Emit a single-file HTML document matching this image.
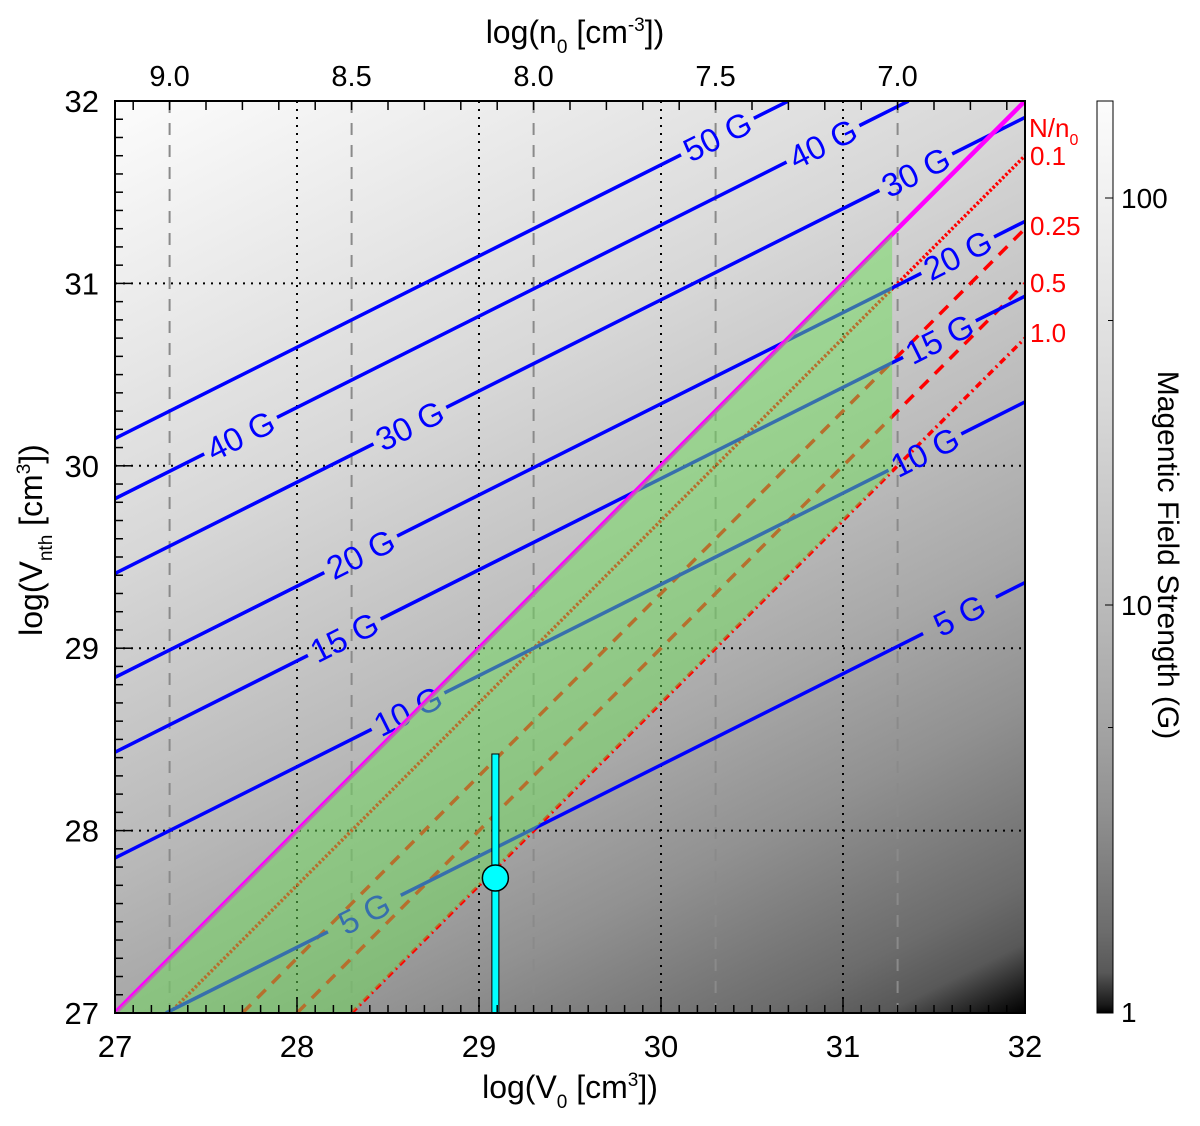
<!DOCTYPE html>
<html><head><meta charset="utf-8"><style>
html,body{margin:0;padding:0;background:#fff;}
svg text{font-family:"Liberation Sans",Arial,sans-serif;}
</style></head><body>
<svg id="chart" width="1200" height="1121" viewBox="0 0 1200 1121" xmlns="http://www.w3.org/2000/svg">
<defs>
<linearGradient id="bgGrad" gradientUnits="userSpaceOnUse"></linearGradient>
<linearGradient id="cbGrad" gradientUnits="userSpaceOnUse" x1="0" y1="1013" x2="0" y2="101"></linearGradient>
<clipPath id="plotClip"><rect x="115" y="101" width="910" height="912"/></clipPath>
</defs>
<rect x="115" y="101" width="910" height="912" fill="url(#bgGrad)"/>
<g id="grid" clip-path="url(#plotClip)"></g>
<g id="lines" clip-path="url(#plotClip)"></g>
<g id="overlay" clip-path="url(#plotClip)"></g>
<g id="point"></g>
<g id="axes"></g>
<g id="colorbar"></g>
</svg>
<script>
// ---- data ----
const bLabels = [50, 40, 30, 20, 15, 10, 5];
const bIntercepts = [30.15, 29.82, 29.41, 28.84, 28.43, 27.85, 26.86]; // log Vnth at log V0 = 27
const bSlope = 0.5;
const leftLabelV0 = [null, 27.69, 28.62, 28.35, 28.26, 28.61, 28.37];
const rightLabelV0 = [30.31, 30.89, 31.40, 31.63, 31.53, 31.45, 31.64];
const ratioLabels = ['0.1', '0.25', '0.5', '1.0'];
const ratioOffsets = [-0.3, -0.7, -1.0, -1.3];
const ratioDash = ['2.5,2', '12,9', '12,9', '7,4,2,4'];
const xTicks = [27, 28, 29, 30, 31, 32];
const yTicks = [27, 28, 29, 30, 31, 32];
const topTicks = [9.0, 8.5, 8.0, 7.5, 7.0];
const pointV0 = 29.09, pointVnth = 27.74, pointErrLo = 27.0, pointErrHi = 28.42;
const regionMaxV0 = 31.27;
const cbTicks = [1, 10, 100];
const cbLabelsTxt = ['1', '10', '100'];
const cbMinor = [5, 50];

// ---- axes functions ----
const X0 = 115, X1 = 1025, Y0 = 1013, Y1 = 101;
const sx = v => X0 + (v - 27) / 5 * (X1 - X0);
const sy = v => Y0 - (v - 27) / 5 * (Y0 - Y1);
const topToV0 = n => 27.3 + 2 * (9 - n);
const cbY = b => 1012 - Math.log10(b) * 407;
const NS = 'http://www.w3.org/2000/svg';
function mk(tag, attrs, parent, text) {
  const e = document.createElementNS(NS, tag);
  for (const k in attrs) e.setAttribute(k, attrs[k]);
  if (text !== undefined) e.textContent = text;
  parent.appendChild(e);
  return e;
}
const $ = id => document.getElementById(id);

const grayStops = [[-0.05, 0], [0.02, 25], [0.1, 88], [0.2, 108], [0.5, 145], [0.75, 168], [1.0, 186], [1.5, 216], [2.3, 252]];
const bg = $('bgGrad');
bg.setAttribute('x1', 1025); bg.setAttribute('y1', 1013);
bg.setAttribute('x2', 479); bg.setAttribute('y2', -80);
grayStops.forEach(([lb, g]) => {
  const c = 13.36 + (lb - 0.7) * 3.29;
  const off = Math.max(0, Math.min(1, (c - 11) / 7.5));
  mk('stop', { offset: off, 'stop-color': `rgb(${g},${g},${g})` }, bg);
});
const cb = $('cbGrad');
grayStops.forEach(([lb, g]) => {
  const off = Math.max(0, Math.min(1, (1012 - cbY(Math.pow(10, lb))) / 912));
  mk('stop', { offset: off, 'stop-color': `rgb(${g},${g},${g})` }, cb);
});

// ---- grid ----
const grid = $('grid');
topTicks.forEach(n => {
  const l = mk('line', { x1: sx(topToV0(n)), x2: sx(topToV0(n)), y1: Y1, y2: Y0, stroke: '#8a8a8a', 'stroke-width': 2, 'stroke-dasharray': '12,10' }, grid);
  
  
});
[28, 29, 30, 31].forEach(v => {
  const a = mk('line', { x1: sx(v), x2: sx(v), y1: Y1, y2: Y0, stroke: '#000', 'stroke-width': 2, 'stroke-dasharray': '2,6' }, grid);
  
  
  const b = mk('line', { x1: X0, x2: X1, y1: sy(v), y2: sy(v), stroke: '#000', 'stroke-width': 2, 'stroke-dasharray': '2,6' }, grid);
  
  
});

// ---- contour lines ----
const lines = $('lines');
ratioOffsets.forEach((o, i) => {
  const x0 = 27 - o;
  const l = mk('line', { x1: sx(x0), y1: sy(27), x2: sx(32), y2: sy(32 + o), stroke: '#ff0000', 'stroke-width': 3.5, 'stroke-dasharray': ratioDash[i] }, lines);
  
  
});
const gapHalf = 0.2;
bIntercepts.forEach((b0, i) => {
  const f = v => b0 + bSlope * (v - 27);
  let vEnd = Math.min(32, 27 + (32 - b0) / bSlope);
  let vStart = b0 < 27 ? 27 + (27 - b0) / bSlope : 27;
  const gaps = [leftLabelV0[i], rightLabelV0[i]].filter(g => g !== null).sort((a, b) => a - b);
  let segs = []; let cur = vStart;
  gaps.forEach(g => { segs.push([cur, g - gapHalf]); cur = g + gapHalf; });
  segs.push([cur, vEnd]);
  segs.forEach(([a, b]) => {
    if (b <= a) return;
    const l = mk('line', { x1: sx(a), y1: sy(f(a)), x2: sx(b), y2: sy(f(b)), stroke: '#0000ff', 'stroke-width': 3.5 }, lines);
    
    
  });
  const ang = -Math.atan(bSlope * (Y0 - Y1) / 5 / ((X1 - X0) / 5)) * 180 / Math.PI;
  gaps.forEach(g => {
    const t = mk('text', { x: sx(g), y: sy(f(g)), fill: '#0000ff', 'font-size': 33, 'text-anchor': 'middle', 'dominant-baseline': 'central', transform: `rotate(${ang} ${sx(g)} ${sy(f(g))})` }, lines, bLabels[i] + ' G');
    
    
  });
});
const mag = mk('line', { x1: sx(27), y1: sy(27), x2: sx(32), y2: sy(32), stroke: '#ff00ff', 'stroke-width': 4.5 }, lines);



// ---- green region ----
const lowOff = ratioOffsets[ratioOffsets.length - 1];
const pts = [[27, 27], [regionMaxV0, regionMaxV0], [regionMaxV0, regionMaxV0 + lowOff], [27 - lowOff, 27]].map(p => sx(p[0]) + ',' + sy(p[1])).join(' ');
const poly = mk('polygon', { points: pts, fill: 'rgb(110,222,90)', 'fill-opacity': 0.5 }, $('overlay'));



// ---- point ----
const pg = $('point');
const eb = mk('rect', { x: sx(pointV0) - 3.5, y: sy(pointErrHi), width: 7, height: sy(pointErrLo) - sy(pointErrHi), fill: '#00ffff', stroke: '#000', 'stroke-width': 1 }, pg);


const dot = mk('circle', { cx: sx(pointV0), cy: sy(pointVnth), r: 13, fill: '#00ffff', stroke: '#000', 'stroke-width': 1.5 }, pg);



// ---- axes ----
const ax = $('axes');
const frame = mk('rect', { x: X0, y: Y1, width: X1 - X0, height: Y0 - Y1, fill: 'none', stroke: '#000', 'stroke-width': 2 }, ax);


for (let k = 0; k <= 50; k++) {
  const v = 27 + k * 0.1; const major = k % 10 === 0; const len = major ? 16 : 8;
  mk('line', { x1: sx(v), x2: sx(v), y1: Y0, y2: Y0 - len, stroke: '#000', 'stroke-width': 1.5 }, ax);
  mk('line', { x1: X0, x2: X0 + len, y1: sy(v), y2: sy(v), stroke: '#000', 'stroke-width': 1.5 }, ax);
}
for (let k = 0; k <= 24; k++) {
  const v = 27.3 + k * 0.2 - 0.2; if (v < 27 || v > 32) continue;
  mk('line', { x1: sx(v), x2: sx(v), y1: Y1, y2: Y1 + 9, stroke: '#000', 'stroke-width': 1.5 }, ax);
}
xTicks.forEach(v => {
  const t = mk('text', { x: sx(v), y: 1057, 'font-size': 31, 'text-anchor': 'middle' }, ax, String(v));
  
  
});
yTicks.forEach(v => {
  const t = mk('text', { x: 99, y: sy(v) + 11, 'font-size': 31, 'text-anchor': 'end' }, ax, String(v));
  
  
});
topTicks.forEach(n => {
  const t = mk('text', { x: sx(topToV0(n)), y: 86, 'font-size': 29, 'text-anchor': 'middle' }, ax, n.toFixed(1));
  
  
});
ratioLabels.forEach((r, i) => {
  const t = mk('text', { x: 1030, y: [165, 235, 292, 342][i], 'font-size': 26, fill: '#ff0000' }, ax, r);
  
  
});
</script>
<script>
const ax2 = document.getElementById('axes');
const NS2 = 'http://www.w3.org/2000/svg';
function tx(html, attrs, name) {
  const t = document.createElementNS(NS2, 'text');
  for (const k in attrs) t.setAttribute(k, attrs[k]);
  t.innerHTML = html;
  
  
  ax2.appendChild(t);
}
tx('log(V<tspan dy="10" font-size="19">0</tspan><tspan dy="-10"> [cm</tspan><tspan dy="-12" font-size="19">3</tspan><tspan dy="12">])</tspan>', { x: 570, y: 1098, 'font-size': 32, 'text-anchor': 'middle' }, 'x-axis-title');
tx('log(n<tspan dy="10" font-size="19">0</tspan><tspan dy="-10"> [cm</tspan><tspan dy="-12" font-size="19">-3</tspan><tspan dy="12">])</tspan>', { x: 575, y: 43, 'font-size': 32, 'text-anchor': 'middle' }, 'top-axis-title');
tx('log(V<tspan dy="10" font-size="19">nth</tspan><tspan dy="-10"> [cm</tspan><tspan dy="-12" font-size="19">3</tspan><tspan dy="12">])</tspan>', { x: 0, y: 0, 'font-size': 32, 'text-anchor': 'middle', transform: 'translate(42,540) rotate(-90)' }, 'y-axis-title');
tx('N/n<tspan dy="8" font-size="16">0</tspan>', { x: 1029, y: 137, 'font-size': 26, fill: '#ff0000' }, 'ratio-title');
const cbg = document.getElementById('colorbar');
function mk2(tag, attrs, parent, text) { const e = document.createElementNS(NS2, tag); for (const k in attrs) e.setAttribute(k, attrs[k]); if (text !== undefined) e.textContent = text; parent.appendChild(e); return e; }
const cbr = mk2('rect', { x: 1097, y: 101, width: 16, height: 912, fill: 'url(#cbGrad)', stroke: '#000', 'stroke-width': 1 }, cbg);


cbTicks.forEach((b, i) => {
  mk2('line', { x1: 1113, x2: 1105, y1: cbY(b), y2: cbY(b), stroke: '#000', 'stroke-width': 1 }, cbg);
  const t = mk2('text', { x: 1121, y: cbY(b) + 10, 'font-size': 28 }, cbg, cbLabelsTxt[i]);
  
  
});
cbMinor.forEach(b => { mk2('line', { x1: 1113, x2: 1108, y1: cbY(b), y2: cbY(b), stroke: '#000', 'stroke-width': 1 }, cbg); });
const cbt = mk2('text', { x: 0, y: 0, 'font-size': 30, 'text-anchor': 'middle', transform: 'translate(1158,555) rotate(90)' }, cbg, 'Magentic Field Strength (G)');


</script>
</body></html>
